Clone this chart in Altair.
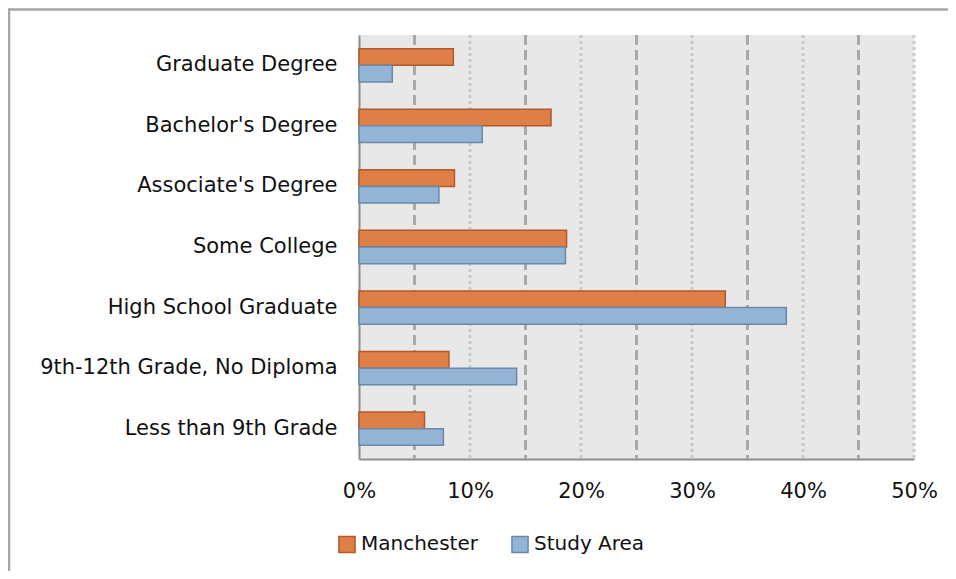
import altair as alt
import pandas as pd

categories = ["Graduate Degree", "Bachelor's Degree", "Associate's Degree", "Some College",
              "High School Graduate", "9th-12th Grade, No Diploma", "Less than 9th Grade"]
manchester = [8.5, 17.3, 8.6, 18.7, 33.0, 8.1, 5.9]
study_area = [3.0, 11.1, 7.2, 18.6, 38.5, 14.2, 7.6]
series = ["Manchester", "Study Area"]
x_ticks = [0, 10, 20, 30, 40, 50]
dashed_lines = [5, 15, 25, 35, 45]
dotted_lines = [10, 20, 30, 40, 50]

rows = []
for c, m, s in zip(categories, manchester, study_area):
    rows.append({"category": c, "series": series[0], "value": m})
    rows.append({"category": c, "series": series[1], "value": s})
df = pd.DataFrame(rows)

FONT = "DejaVu Sans"
fills = ["#DE7F47", "#93B4D4"]
strokes = ["#B0592B", "#6A89A8"]

xscale = alt.Scale(domain=[0, 50], nice=False, zero=True)

dashed = alt.Chart(pd.DataFrame({"v": dashed_lines})).mark_rule(
    color="#A9A9A9", strokeWidth=3, strokeDash=[10, 5]
).encode(x=alt.X("v:Q", scale=xscale))

dotted = alt.Chart(pd.DataFrame({"v": dotted_lines})).mark_rule(
    color="#C9C9C9", strokeWidth=3, strokeDash=[3, 3]
).encode(x=alt.X("v:Q", scale=xscale))

bars = alt.Chart(df).mark_bar(strokeWidth=1.5).encode(
    x=alt.X("value:Q", scale=xscale, title=None,
            axis=alt.Axis(values=x_ticks, labelExpr="datum.value + '%'", grid=False,
                          ticks=False, domainColor="#8C8C8C", domainWidth=2,
                          labelPadding=21, labelFontSize=21, labelColor="#111111",
                          labelFont=FONT, labelFlush=False, labelOverlap=False)),
    y=alt.Y("category:N", sort=categories, title=None,
            scale=alt.Scale(paddingInner=0.45, paddingOuter=0.225),
            axis=alt.Axis(ticks=False, domainColor="#8C8C8C", domainWidth=2,
                          labelPadding=22, labelFontSize=21, labelColor="#111111",
                          labelFont=FONT, labelLimit=400)),
    yOffset=alt.YOffset("series:N", sort=series),
    color=alt.Color("series:N", sort=series, title=None,
                    scale=alt.Scale(domain=series, range=fills),
                    legend=alt.Legend(orient="none", legendX=-22, legendY=499,
                                      direction="horizontal", symbolType="square",
                                      symbolSize=260, symbolStrokeWidth=1.5,
                                      labelFontSize=20, labelFont=FONT,
                                      labelColor="#111111", columnPadding=30,
                                      labelOffset=4)),
    stroke=alt.Stroke("series:N", sort=series, title=None,
                      scale=alt.Scale(domain=series, range=strokes)),
)

# outer chart frame (top and left edges visible in the reference)
frame_top = alt.Chart().mark_rule(color="#A6A6A6", strokeWidth=2.5, clip=False).encode(
    x=alt.value(-350), x2=alt.value(600), y=alt.value(-25.5))
frame_left = alt.Chart().mark_rule(color="#A6A6A6", strokeWidth=2.5, clip=False).encode(
    x=alt.value(-350), y=alt.value(-26.7), y2=alt.value(560))

chart = alt.layer(dashed, dotted, bars, frame_top, frame_left).properties(
    width=555, height=424,
    autosize=alt.AutoSizeParams(type="none"),
    padding={"left": 351, "top": 27, "right": 34, "bottom": 112},
    background="white",
).configure_view(fill="#E8E8E8", stroke=None)

chart.save("out.html", embed_options={"renderer": "svg", "actions": False})
